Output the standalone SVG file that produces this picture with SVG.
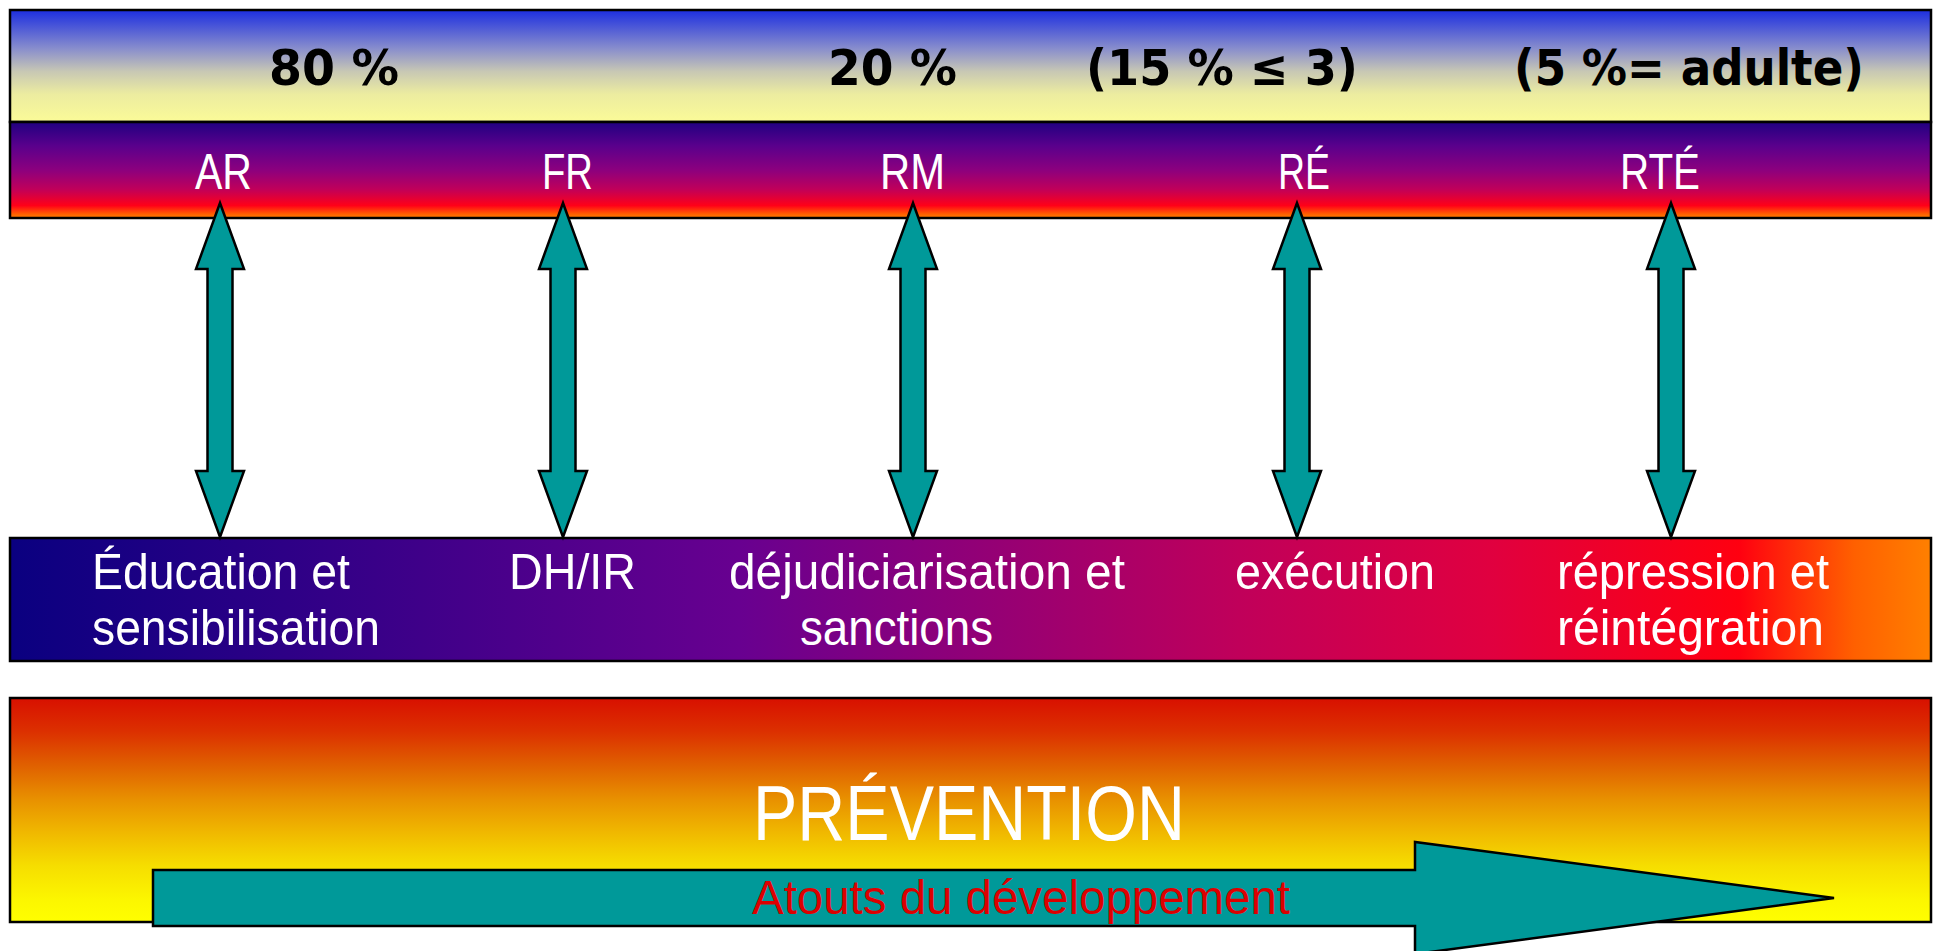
<svg xmlns="http://www.w3.org/2000/svg" width="1935" height="951" viewBox="0 0 1935 951">
  <defs>
    <linearGradient id="gTop" x1="0" y1="0" x2="0" y2="1">
      <stop offset="0" stop-color="#1c2ee0"/>
      <stop offset="0.35" stop-color="#8a8fcc"/>
      <stop offset="0.55" stop-color="#c8c8b4"/>
      <stop offset="0.75" stop-color="#ececa0"/>
      <stop offset="1" stop-color="#fbfb98"/>
    </linearGradient>
    <linearGradient id="gBand" x1="0" y1="0" x2="0" y2="1">
      <stop offset="0" stop-color="#200080"/>
      <stop offset="0.25" stop-color="#5a008c"/>
      <stop offset="0.5" stop-color="#8c007e"/>
      <stop offset="0.7" stop-color="#c0005a"/>
      <stop offset="0.87" stop-color="#ff0018"/>
      <stop offset="0.96" stop-color="#ff6000"/>
      <stop offset="1" stop-color="#ff8000"/>
    </linearGradient>
    <linearGradient id="gLow" x1="0" y1="0" x2="1" y2="0">
      <stop offset="0" stop-color="#0a0080"/>
      <stop offset="0.38" stop-color="#680090"/>
      <stop offset="0.64" stop-color="#c0005a"/>
      <stop offset="0.77" stop-color="#e00040"/>
      <stop offset="0.9" stop-color="#ff0010"/>
      <stop offset="0.96" stop-color="#ff6000"/>
      <stop offset="1" stop-color="#ff8000"/>
    </linearGradient>
    <linearGradient id="gPrev" x1="0" y1="0" x2="0" y2="1">
      <stop offset="0" stop-color="#d81000"/>
      <stop offset="0.15" stop-color="#dc3000"/>
      <stop offset="0.3" stop-color="#e06000"/>
      <stop offset="0.45" stop-color="#e89000"/>
      <stop offset="0.6" stop-color="#f0b800"/>
      <stop offset="0.75" stop-color="#f6de00"/>
      <stop offset="0.9" stop-color="#fcf600"/>
      <stop offset="1" stop-color="#ffff00"/>
    </linearGradient>
  </defs>
  <style>
    .box { stroke: #000; stroke-width: 2.5; }
    .arr { fill: #009999; stroke: #000; stroke-width: 2.5; stroke-linejoin: miter; }
    .pct { font-family: "DejaVu Sans", Verdana, sans-serif; font-weight: bold; font-size: 50px; fill: #000; }
    .lbl { font-family: "Liberation Sans", Arial, sans-serif; font-size: 50px; fill: #fff; }
    .big { font-family: "Liberation Sans", Arial, sans-serif; font-size: 78px; fill: #fff; }
    .red { font-family: "Liberation Sans", Arial, sans-serif; font-size: 48px; fill: #dd0000; }
  </style>

  <g id="top-band">
    <rect class="box" x="10" y="10" width="1921" height="112" fill="url(#gTop)"/>
    <text class="pct" x="269" y="85" textLength="130" lengthAdjust="spacingAndGlyphs">80 %</text>
    <text class="pct" x="828" y="85" textLength="129" lengthAdjust="spacingAndGlyphs">20 %</text>
    <text class="pct" x="1086" y="85" textLength="272" lengthAdjust="spacingAndGlyphs">(15 % ≤ 3)</text>
    <text class="pct" x="1514" y="85" textLength="350" lengthAdjust="spacingAndGlyphs">(5 %= adulte)</text>
  </g>

  <g id="level-band">
    <rect class="box" x="10" y="122" width="1921" height="96" fill="url(#gBand)"/>
    <text class="lbl" x="195" y="189" textLength="57" lengthAdjust="spacingAndGlyphs">AR</text>
    <text class="lbl" x="542" y="189" textLength="51" lengthAdjust="spacingAndGlyphs">FR</text>
    <text class="lbl" x="880" y="189" textLength="65" lengthAdjust="spacingAndGlyphs">RM</text>
    <text class="lbl" x="1278" y="189" textLength="52" lengthAdjust="spacingAndGlyphs">RÉ</text>
    <text class="lbl" x="1620" y="189" textLength="80" lengthAdjust="spacingAndGlyphs">RTÉ</text>
  </g>

  <g id="actions-band">
    <rect class="box" x="10" y="538" width="1921" height="123" fill="url(#gLow)"/>
    <text class="lbl" x="92" y="589" textLength="258" lengthAdjust="spacingAndGlyphs">Éducation et</text>
    <text class="lbl" x="92" y="645" textLength="288" lengthAdjust="spacingAndGlyphs">sensibilisation</text>
    <text class="lbl" x="509" y="589" textLength="127" lengthAdjust="spacingAndGlyphs">DH/IR</text>
    <text class="lbl" x="729" y="589" textLength="396" lengthAdjust="spacingAndGlyphs">déjudiciarisation et</text>
    <text class="lbl" x="800" y="645" textLength="193" lengthAdjust="spacingAndGlyphs">sanctions</text>
    <text class="lbl" x="1235" y="589" textLength="200" lengthAdjust="spacingAndGlyphs">exécution</text>
    <text class="lbl" x="1557" y="589" textLength="272" lengthAdjust="spacingAndGlyphs">répression et</text>
    <text class="lbl" x="1557" y="645" textLength="267" lengthAdjust="spacingAndGlyphs">réintégration</text>
  </g>

  <g id="prevention">
    <rect class="box" x="10" y="698" width="1921" height="224" fill="url(#gPrev)"/>
    <text class="big" x="753" y="840" textLength="432" lengthAdjust="spacingAndGlyphs">PRÉVENTION</text>
  </g>

  <g id="development-arrow">
    <polygon class="arr" points="153,870 1415,870 1415,842 1834,898 1415,954 1415,926 153,926"/>
    <text class="red" x="752" y="914" textLength="538" lengthAdjust="spacingAndGlyphs">Atouts du développement</text>
  </g>

  <g id="connectors">
    <polygon class="arr" points="220,203 244,269 232.5,269 232.5,471 244,471 220,537 196,471 207.5,471 207.5,269 196,269"/>
    <polygon class="arr" points="563,203 587,269 575.5,269 575.5,471 587,471 563,537 539,471 550.5,471 550.5,269 539,269"/>
    <polygon class="arr" points="913,203 937,269 925.5,269 925.5,471 937,471 913,537 889,471 900.5,471 900.5,269 889,269"/>
    <polygon class="arr" points="1297,203 1321,269 1309.5,269 1309.5,471 1321,471 1297,537 1273,471 1284.5,471 1284.5,269 1273,269"/>
    <polygon class="arr" points="1671,203 1695,269 1683.5,269 1683.5,471 1695,471 1671,537 1647,471 1658.5,471 1658.5,269 1647,269"/>
  </g>
</svg>
